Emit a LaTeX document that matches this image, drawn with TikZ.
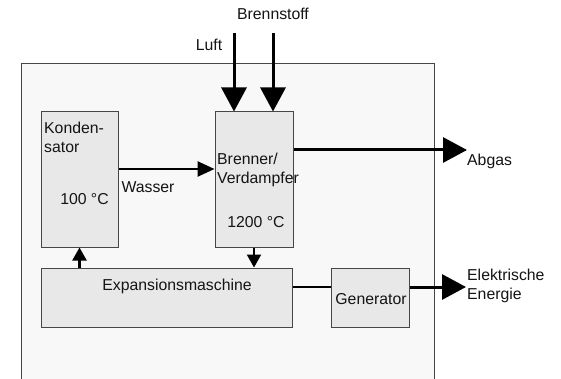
\documentclass[tikz,border=0pt]{standalone}
\usepackage{fontspec}
\setmainfont{Liberation Sans}
\usepackage{xcolor}
\usepackage{tikz}
\usetikzlibrary{arrows.meta,calc,positioning}
\definecolor{framegrey}{RGB}{70,70,70}
\definecolor{paperfill}{RGB}{248,248,248}
\definecolor{unitfill}{RGB}{232,232,232}
\definecolor{inkgrey}{RGB}{20,20,20}
\tikzset{
  plant/.style={draw=framegrey,fill=paperfill,line width=1pt},
  unit/.style={draw=framegrey,fill=unitfill,line width=1pt,inner sep=0pt},
  bigflow/.style={-{Triangle[length=24pt,width=25pt]},line width=3pt,draw=black},
  flow/.style={-{Triangle[length=17pt,width=15pt]},line width=2.6pt,draw=black},
  smallflow/.style={-{Triangle[length=13pt,width=14pt]},line width=2.2pt,draw=black},
  shaft/.style={line width=2.6pt,draw=black},
  txt/.style={font=\fontsize{15.8}{19}\selectfont,text=inkgrey,inner sep=0pt,align=left}
}

\begin{document}
\begin{tikzpicture}[x=1pt,y=-1pt]
  \useasboundingbox (0,0) rectangle (561,379);
  \fill[white] (0,0) rectangle (561,379);
  % plant boundary
  \draw[plant] (21,64) rectangle (434,400);
  % units
  \node[unit,minimum width=77pt,minimum height=135pt] (kond) at (79.5,179.5) {};
  \node[unit,minimum width=78pt,minimum height=135pt] (brenner) at (254,179.5) {};
  \node[unit,minimum width=251pt,minimum height=59pt] (expan) at (166.5,297.5) {};
  \node[unit,minimum width=78pt,minimum height=59pt] (gen) at (370,297.5) {};
  % free ends
  \coordinate (luft) at (234,33);
  \coordinate (stoff) at (273,33);
  \coordinate (wasser) at (118,169);
  \coordinate (abgas) at (467,150);
  \coordinate (strom) at (466,287);
  % flows
  \draw[bigflow] (luft) -- (luft |- brenner.north);
  \draw[bigflow] (stoff) -- (stoff |- brenner.north);
  \draw[flow] (kond.east |- wasser) -- (brenner.west |- wasser);
  \draw[bigflow] (brenner.east |- abgas) -- (abgas);
  \draw[smallflow] (brenner.south) -- (expan.north -| brenner.south);
  \draw[smallflow] (expan.north -| kond.south) -- (kond.south);
  \draw[shaft] (expan.east |- strom) -- (gen.west |- strom);
  \draw[bigflow] (gen.east |- strom) -- (strom);
  % labels
  \node[txt] (luftlbl) at (209,45) {Luft};
  \node[txt] (stofflbl) at (273,14) {Brennstoff};
  \node[txt,anchor=north west] (kondlbl) at (44,122) {Konden-\\sator};
  \node[txt] (kondtemp) at (84.5,199) {100 °C};
  \node[txt,anchor=north west] (brennerlbl) at (217,153) {Brenner/\\Verdampfer};
  \node[txt] (brennertemp) at (256,222) {1200 °C};
  \node[txt] (wasserlbl) at (148,187) {Wasser};
  \node[txt,anchor=west] (abgaslbl) at (467,161) {Abgas};
  \node[txt] (expanlbl) at (177,286) {Expansionsmaschine};
  \node[txt] (genlbl) at (371,299) {Generator};
  \node[txt,anchor=north west] (stromlbl) at (467,269) {Elektrische\\Energie};
\end{tikzpicture}
\end{document}
